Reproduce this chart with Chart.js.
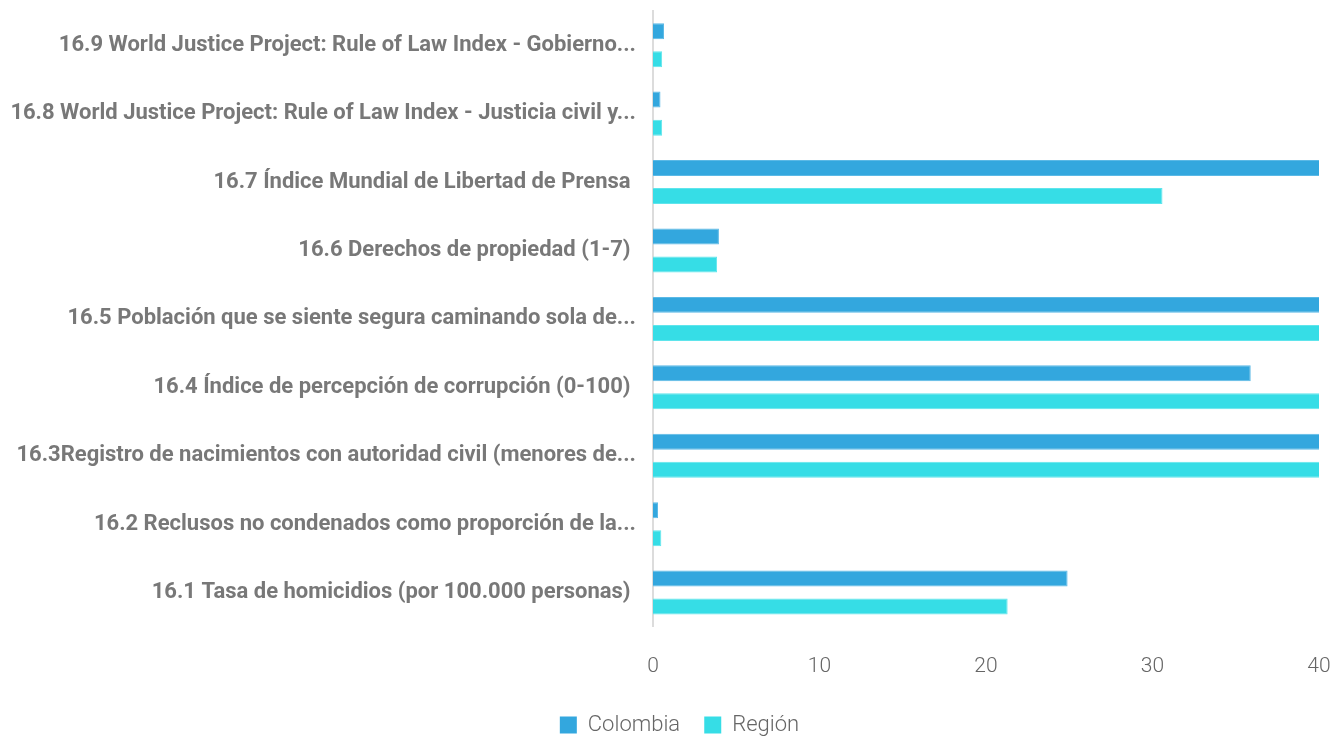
<!DOCTYPE html>
<html lang="es">
<head>
    <meta charset="UTF-8">
    <title>ODS 16</title>
    <script src="https://cdn.jsdelivr.net/npm/chart.js"></script>
    <style>
        html, body { margin: 0; padding: 0; background: #ffffff; }
        #wrap { width: 1343px; height: 736px; position: relative; }
    </style>
</head>
<body>
<div id="wrap"><canvas id="odsChart"></canvas></div>
<script>
    // categorías (de arriba a abajo)
    const categorias = [
        '16.9 World Justice Project: Rule of Law Index - Gobierno...',
        '16.8 World Justice Project: Rule of Law Index - Justicia civil y...',
        '16.7 Índice Mundial de Libertad de Prensa ',
        '16.6 Derechos de propiedad (1-7) ',
        '16.5 Población que se siente segura caminando sola de...',
        '16.4 Índice de percepción de corrupción (0-100) ',
        '16.3Registro de nacimientos con autoridad civil (menores de...',
        '16.2 Reclusos no condenados como proporción de la...',
        '16.1 Tasa de homicidios (por 100.000 personas) '
    ];
    // valores (los que pasan de 40 quedan cortados en el gráfico)
    const colombia = [0.66, 0.45, 42.8, 3.96, 46, 35.9, 97, 0.3, 24.9];
    const region   = [0.55, 0.55, 30.6, 3.85, 45, 43, 94, 0.5, 21.3];
    const ticksX = [0, 10, 20, 30, 40];

    const fuente = 'Roboto, "Noto Sans", sans-serif';

    const ctx = document.getElementById('odsChart').getContext('2d');
    new Chart(ctx, {
        type: 'bar',
        data: {
            labels: categorias,
            datasets: [{
                label: 'Colombia',
                data: colombia,
                backgroundColor: '#33a7de',
                borderColor: '#5bb9e6',
                borderWidth: 1,
                categoryPercentage: 0.82,
                barPercentage: 0.57
            }, {
                label: 'Región',
                data: region,
                backgroundColor: '#36dde6',
                borderColor: '#5fe5ec',
                borderWidth: 1,
                categoryPercentage: 0.82,
                barPercentage: 0.57
            }]
        },
        options: {
            indexAxis: 'y',
            responsive: true,
            maintainAspectRatio: false,
            animation: false,
            // padding derecho negativo: la leyenda se centra un poco más a la derecha
            layout: { padding: { top: 11, right: -16, left: 0, bottom: -10 } },
            scales: {
                x: {
                    min: 0,
                    max: 40,
                    afterBuildTicks: s => { s.ticks = ticksX.map(v => ({ value: v })); },
                    afterFit: s => { s.paddingLeft = 0; s.paddingRight = 24; },
                    grid: { display: false, drawTicks: false },
                    border: { display: false },
                    ticks: {
                        padding: 27,
                        color: '#666666',
                        font: { family: fuente, size: 21, weight: '300' }
                    }
                },
                y: {
                    afterFit: s => { s.width = 653; s.paddingTop = 0; s.paddingBottom = 0; },
                    grid: { display: false, drawTicks: false },
                    border: { display: true, color: '#dcdcdc', width: 2 },
                    ticks: {
                        padding: 17,
                        color: '#787878',
                        font: { family: fuente, size: 22, weight: 'bold' }
                    }
                }
            },
            plugins: {
                legend: {
                    position: 'bottom',
                    labels: {
                        boxWidth: 17,
                        boxHeight: 17,
                        padding: 8,
                        color: '#666666',
                        font: { family: fuente, size: 22, weight: '300' },
                        generateLabels: chart => {
                            const items = Chart.defaults.plugins.legend.labels.generateLabels(chart);
                            // espacio extra entre los dos elementos de la leyenda
                            items[0].text = items[0].text + '   ';
                            items.forEach(it => { it.lineWidth = 0; });
                            return items;
                        }
                    }
                },
                tooltip: { enabled: false }
            }
        }
    });
</script>
</body>
</html>
